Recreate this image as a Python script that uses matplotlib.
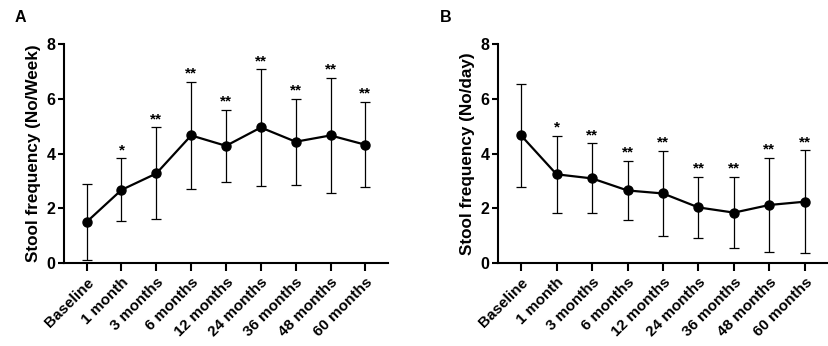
import matplotlib
matplotlib.use("Agg")
import matplotlib.pyplot as plt
import numpy as np

plt.rcParams['font.family'] = ['Liberation Sans', 'DejaVu Sans']

categories = ["Baseline", "1 month", "3 months", "6 months", "12 months",
              "24 months", "36 months", "48 months", "60 months"]

# Panel A: stool frequency per week
a_mean = [1.50, 2.67, 3.27, 4.66, 4.28, 4.95, 4.43, 4.66, 4.32]
a_sd   = [1.38, 1.15, 1.68, 1.94, 1.31, 2.12, 1.57, 2.10, 1.56]
a_sig  = ["", "*", "**", "**", "**", "**", "**", "**", "**"]

# Panel B: stool frequency per day
b_mean = [4.66, 3.24, 3.09, 2.65, 2.54, 2.03, 1.84, 2.12, 2.24]
b_sd   = [1.87, 1.41, 1.28, 1.07, 1.54, 1.10, 1.30, 1.73, 1.87]
b_sig  = ["", "*", "**", "**", "**", "**", "**", "**", "**"]

yticks = [0, 2, 4, 6, 8]

fig = plt.figure(figsize=(8.29, 3.46), dpi=100)
W, H = 829, 346


def panel(rect_px, mean, sd, sig, ylabel, letter, letter_xy):
    x0, x1, ytop, ybot = rect_px
    ax = fig.add_axes([x0 / W, 1 - ybot / H, (x1 - x0) / W, (ybot - ytop) / H])
    x = np.arange(len(categories))
    ax.errorbar(x, mean, yerr=sd, fmt='o-', color='black', ms=6.5, lw=1.6,
                elinewidth=0.9, capsize=3.6, capthick=0.9, clip_on=False, zorder=3)
    for xi, m, s, t in zip(x, mean, sd, sig):
        if t:
            ax.annotate(t, (xi, m + s), xytext=(0, 1), textcoords='offset points',
                        ha='center', va='bottom', fontsize=11, fontweight='bold',
                        annotation_clip=False)
    ax.set_ylim(0, 8)
    ax.set_xlim(-0.65, 8.65)
    ax.set_yticks(yticks)
    ax.set_yticklabels([str(v) for v in yticks], fontsize=11.5, fontweight='bold')
    ax.set_xticks(x)
    ax.set_xticklabels(categories, rotation=45, ha='right', rotation_mode='anchor',
                       fontsize=11, fontweight='bold')
    ax.spines['top'].set_visible(False)
    ax.spines['right'].set_visible(False)
    for s in ['left', 'bottom']:
        ax.spines[s].set_linewidth(1.5)
    ax.tick_params(axis='y', length=4, width=1.5, pad=2)
    ax.tick_params(axis='x', length=6, width=1.5, pad=3)
    ax.set_ylabel(ylabel, fontsize=12.3, fontweight='bold', labelpad=4)
    fig.text(letter_xy[0] / W, 1 - letter_xy[1] / H, letter, fontsize=11.5,
             fontweight='bold', ha='left', va='center')
    return ax


panel((64, 388, 44, 263), a_mean, a_sd, a_sig, "Stool frequency (No/Week)", "A", (15, 17))
panel((498, 828, 44, 263), b_mean, b_sd, b_sig, "Stool frequency (No/day)", "B", (440, 17))

fig.savefig("out.png", dpi=100)
